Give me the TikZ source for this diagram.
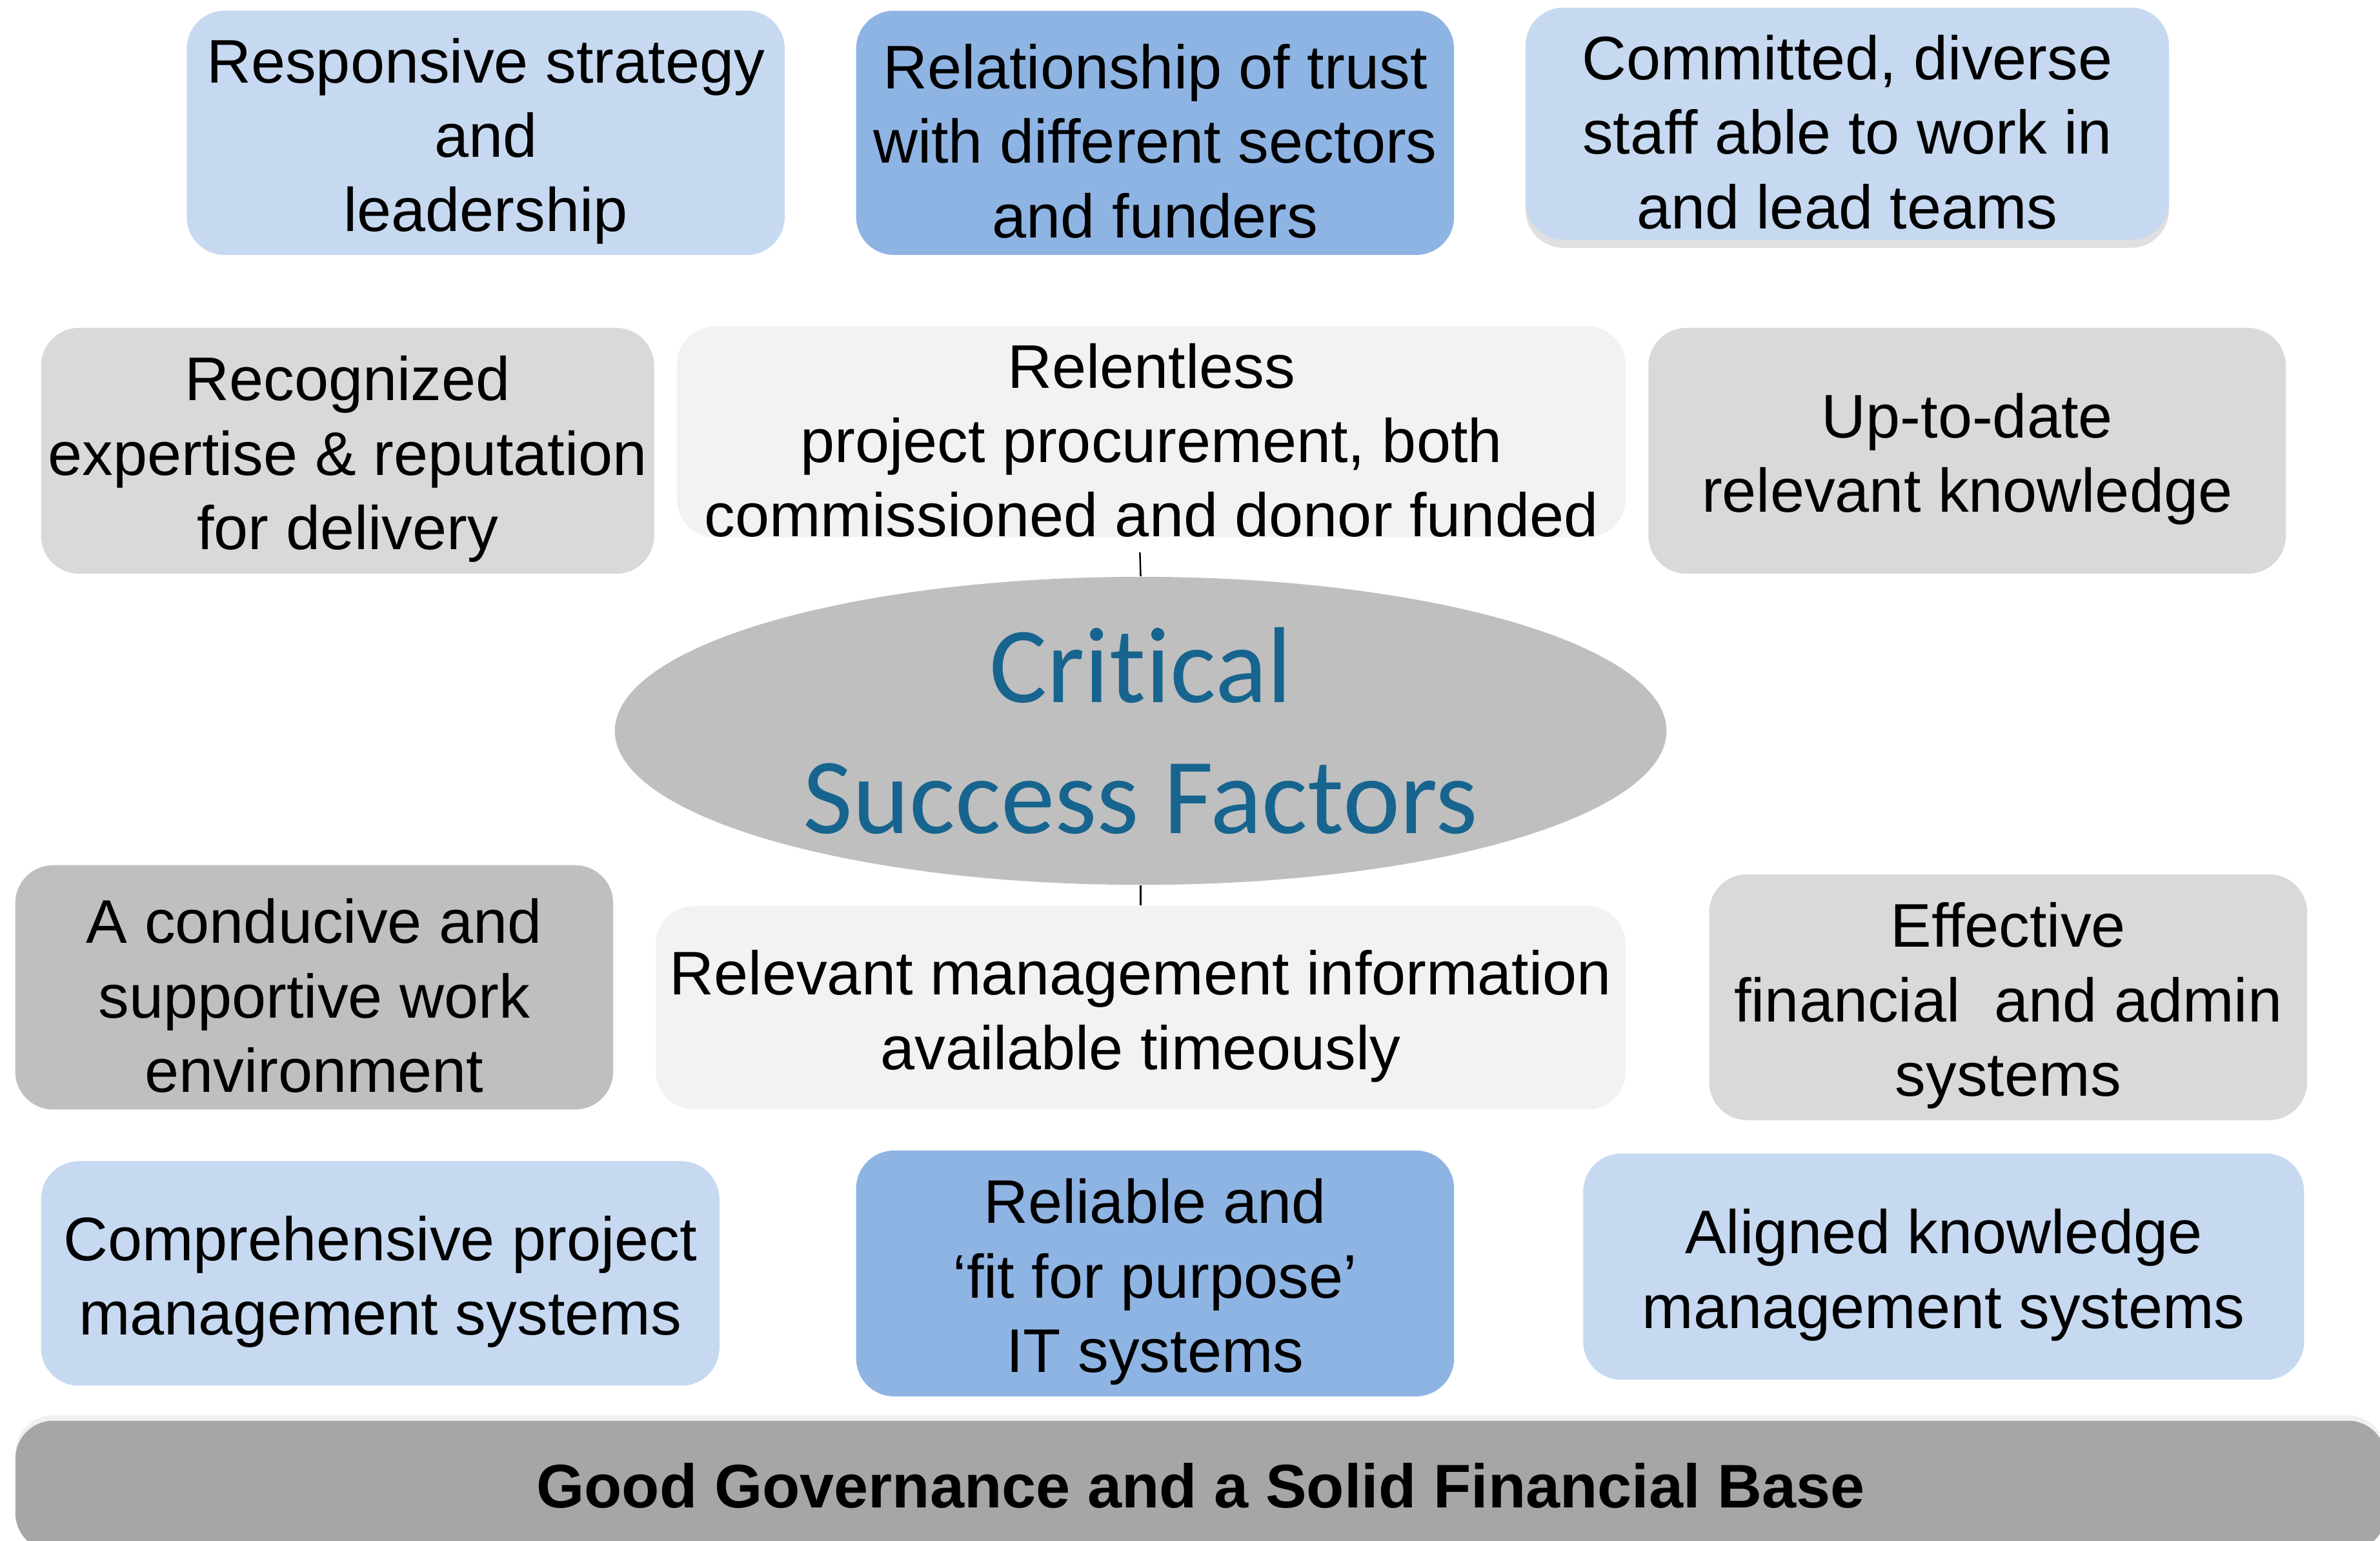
\documentclass[tikz,border=0pt]{standalone}
\usepackage{fontspec}
\setmainfont{Liberation Sans}
\newfontfamily\csffont[Ligatures=NoCommon]{Carlito}
\usetikzlibrary{positioning,shapes.geometric,shadows}

\definecolor{paleblue}{HTML}{C6D9F1}
\definecolor{midblue}{HTML}{8EB4E3}
\definecolor{palegray}{HTML}{F2F2F2}
\definecolor{lightgray}{HTML}{D9D9D9}
\definecolor{midgray}{HTML}{BFBFBF}
\definecolor{basegray}{HTML}{A6A6A6}
\definecolor{csfblue}{HTML}{17648F}

% taller first line, sits the text a little lower in its box
\newcommand\lift{\rule{0pt}{0.81cm}}

\begin{document}
\begin{tikzpicture}[x=0.02cm,y=-0.02cm,
 box/.style={rounded corners=0.5cm,inner sep=0pt,align=center,
  font=\fontsize{23.1}{27.9}\selectfont},
 link/.style={draw=black,line width=0.6pt}]
\useasboundingbox (0,0) rectangle (1568,1015);
% top row
\node[box,fill=paleblue,minimum width=7.88cm,minimum height=3.22cm] (strat) at (320,87.5)
 {\lift Responsive strategy\\and\\leadership};
\node[box,fill=midblue,minimum width=7.88cm,minimum height=3.22cm] (trust) at (761,87.5)
 {\lift Relationship of trust\\with different sectors\\and funders};
\node[box,fill=paleblue,minimum width=8.48cm,minimum height=3.06cm,
 drop shadow={shadow xshift=0pt,shadow yshift=-3pt,opacity=0.25,fill=black!50}] (staff) at (1217,81.5)
 {\lift Committed, diverse\\staff able to work in\\and lead teams};
% second row
\node[box,fill=lightgray,minimum width=8.08cm,minimum height=3.24cm] (expert) at (229,297)
 {\lift Recognized\\expertise \& reputation\\for delivery};
\node[box,fill=palegray,minimum width=12.5cm,minimum height=2.7cm] (procure) at (758.5,284.5)
 {\lift Relentless\\project procurement, both\\commissioned and donor funded};
\node[box,fill=lightgray,minimum width=8.4cm,minimum height=3.24cm] (know) at (1296,297)
 {\lift Up-to-date\\relevant knowledge};
% centre
\node[ellipse,fill=midgray,inner sep=0pt,minimum width=13.86cm,minimum height=4.06cm,
 align=center,text=csfblue,font=\csffont\fontsize{40.5}{49.3}\selectfont] (csf) at (751.5,481.5)
 {Critical\\Success Factors};
% third row
\node[box,fill=midgray,minimum width=7.88cm,minimum height=3.22cm] (work) at (207,650.5)
 {\lift A conducive and\\supportive work\\environment};
\node[box,fill=palegray,minimum width=12.78cm,minimum height=2.68cm] (mis) at (751.5,664)
 {\lift Relevant management information\\available timeously};
\node[box,fill=lightgray,minimum width=7.88cm,minimum height=3.24cm] (admin) at (1323,657)
 {\lift Effective\\financial~ and admin\\systems};
% bottom row
\node[box,fill=paleblue,minimum width=8.94cm,minimum height=2.96cm] (pms) at (250.5,839)
 {\lift Comprehensive project\\management systems};
\node[box,fill=midblue,minimum width=7.88cm,minimum height=3.24cm] (its) at (761,839)
 {\lift Reliable and\\‘fit for purpose’\\IT systems};
\node[box,fill=paleblue,minimum width=9.5cm,minimum height=2.98cm] (kms) at (1280.5,834.5)
 {\lift Aligned knowledge\\management systems};
% foundation
\node[box,fill=basegray,minimum width=31.24cm,minimum height=1.72cm,
 drop shadow={shadow xshift=0pt,shadow yshift=2pt,opacity=0.12,fill=black!50},
 font=\bfseries\fontsize{23.1}{27.9}\selectfont] (base) at (791,979)
 {Good Governance and a Solid Financial Base};
% ties to the ellipse
\coordinate (procend) at (751,364);
\draw[link] (procend) -- (csf.north);
\draw[link] (csf.south) -- (mis.north);
\end{tikzpicture}
\end{document}
